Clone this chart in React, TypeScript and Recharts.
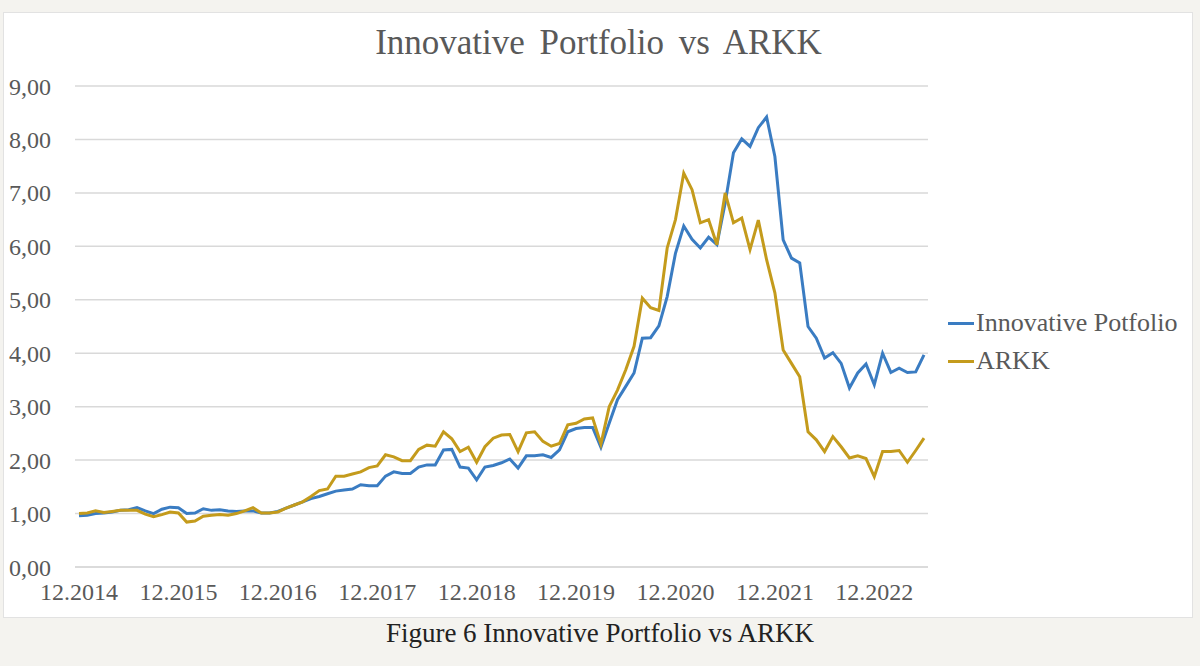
import React from 'react';
import { LineChart, Line, XAxis, YAxis, CartesianGrid, Legend } from 'recharts';

// monthly index values, 12.2014 – 06.2023
const innovative = [
  0.96, 0.97, 1.0, 1.01, 1.03, 1.06, 1.07, 1.11, 1.05, 1.0, 1.08, 1.12,
  1.11, 1.0, 1.01, 1.09, 1.06, 1.07, 1.05, 1.04, 1.05, 1.05, 1.01, 1.01,
  1.04, 1.1, 1.16, 1.22, 1.28, 1.32, 1.37, 1.42, 1.44, 1.46, 1.54, 1.52,
  1.52, 1.7, 1.78, 1.75, 1.75, 1.87, 1.91, 1.91, 2.19, 2.2, 1.87, 1.85,
  1.63, 1.87, 1.9, 1.95, 2.02, 1.85, 2.08, 2.08, 2.1, 2.05, 2.19, 2.53,
  2.59, 2.61, 2.61, 2.24, 2.69, 3.13, 3.38, 3.63, 4.28, 4.29, 4.51, 5.06,
  5.87, 6.38, 6.13, 5.97, 6.17, 6.03, 6.81, 7.75, 8.01, 7.87, 8.22, 8.42,
  7.68, 6.12, 5.78, 5.69, 4.5, 4.28, 3.91, 4.01, 3.81, 3.35, 3.63, 3.8,
  3.41, 4.0, 3.64, 3.72, 3.64, 3.65, 3.97,
];

const arkk = [
  1.0, 1.01, 1.05, 1.02, 1.04, 1.06, 1.06, 1.06, 0.99, 0.94, 0.98, 1.03,
  1.01, 0.84, 0.86, 0.95, 0.97, 0.98, 0.97, 1.0, 1.05, 1.11, 1.01, 1.01,
  1.03, 1.1, 1.16, 1.22, 1.32, 1.43, 1.46, 1.7, 1.7, 1.74, 1.78, 1.86,
  1.89, 2.1, 2.06, 1.99, 1.99, 2.2, 2.28, 2.26, 2.53, 2.4, 2.16, 2.24,
  1.96, 2.25, 2.41, 2.47, 2.48, 2.16, 2.51, 2.53, 2.35, 2.26, 2.31, 2.66,
  2.69, 2.77, 2.79, 2.3, 3.0, 3.31, 3.69, 4.13, 5.03, 4.85, 4.8, 5.97,
  6.5, 7.37, 7.06, 6.44, 6.5, 6.03, 7.0, 6.44, 6.53, 5.94, 6.49, 5.75,
  5.13, 4.06, 3.81, 3.56, 2.53, 2.38, 2.16, 2.44, 2.25, 2.04, 2.08, 2.03,
  1.69, 2.16, 2.16, 2.18, 1.96, 2.18, 2.41,
];

const yTicks = [0, 1, 2, 3, 4, 5, 6, 7, 8, 9];

const months: string[] = [];
for (let i = 0; i < innovative.length; i++) {
  const m = ((11 + i) % 12) + 1;
  const y = 2014 + Math.floor((11 + i) / 12);
  months.push(`${m < 10 ? '0' + m : m}.${y}`);
}

const data = months.map((month, i) => ({
  month,
  innovative: innovative[i],
  arkk: arkk[i],
}));

const SERIF = '"Liberation Serif", "Times New Roman", serif';
const BLUE = '#3a7cc2';
const GOLD = '#c49b1c';

const legendItems = [
  { name: 'Innovative Potfolio', color: BLUE },
  { name: 'ARKK', color: GOLD },
];

const renderLegend = () => (
  <div style={{ fontFamily: SERIF, fontSize: 26, color: '#595959' }}>
    {legendItems.map((it) => (
      <div key={it.name} style={{ display: 'flex', alignItems: 'center', height: 38 }}>
        <span style={{ display: 'inline-block', width: 26, height: 3, background: it.color, marginRight: 2 }} />
        <span>{it.name}</span>
      </div>
    ))}
  </div>
);

export default function App() {
  return (
    <div style={{ position: 'fixed', left: 0, top: 0, width: 1200, height: 666, background: '#f4f3ef', overflow: 'hidden' }}>
      <div style={{ position: 'absolute', left: 3, top: 12, width: 1188, height: 604, background: '#ffffff', border: '1px solid #e2e2e2' }} />
      <div style={{ position: 'absolute', left: 0, top: 23, width: 1197, textAlign: 'center', fontFamily: SERIF, fontSize: 35, color: '#595959', wordSpacing: 6 }}>
        Innovative Portfolio vs ARKK
      </div>
      <div style={{ position: 'absolute', left: 0, top: 618, width: 1200, textAlign: 'center', fontFamily: SERIF, fontSize: 27, color: '#222222' }}>
        Figure 6 Innovative Portfolio vs ARKK
      </div>
      <div style={{ position: 'absolute', left: 0, top: 0 }}>
        <LineChart width={1200} height={666} data={data} margin={{ top: 86, right: 272, bottom: 59, left: 0 }}>
          <CartesianGrid vertical={false} stroke="#d9d9d9" strokeWidth={1.5} />
          <XAxis
            dataKey="month"
            interval={11}
            padding={{ left: 4, right: 4 }}
            axisLine={{ stroke: '#d9d9d9', strokeWidth: 1.5 }}
            tickLine={false}
            height={40}
            tickMargin={10}
            tick={{ fill: '#595959', fontSize: 24, fontFamily: SERIF }}
          />
          <YAxis
            domain={[0, 9]}
            ticks={yTicks}
            width={75}
            axisLine={false}
            tickLine={false}
            tickMargin={18}
            tickFormatter={(v: number) => v.toFixed(2).replace('.', ',')}
            tick={{ fill: '#595959', fontSize: 24, fontFamily: SERIF }}
          />
          <Legend
            layout="vertical"
            align="center"
            verticalAlign="middle"
            content={renderLegend}
            wrapperStyle={{ left: 948, top: 304, width: 250 }}
          />
          <Line type="linear" dataKey="innovative" name="Innovative Potfolio" stroke={BLUE} strokeWidth={3} dot={false} isAnimationActive={false} />
          <Line type="linear" dataKey="arkk" name="ARKK" stroke={GOLD} strokeWidth={3} dot={false} isAnimationActive={false} />
        </LineChart>
      </div>
    </div>
  );
}
